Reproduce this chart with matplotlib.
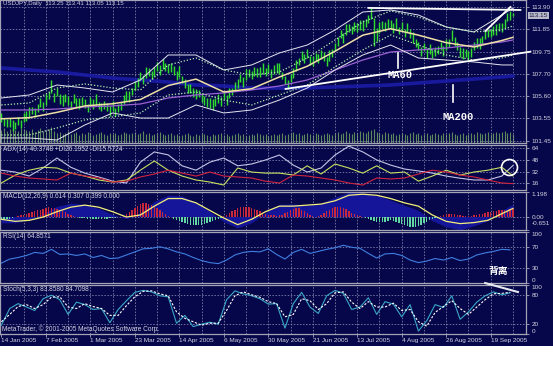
import numpy as np
import matplotlib
matplotlib.use("Agg")
import matplotlib.pyplot as plt
from matplotlib import transforms as mtransforms

plt.rcParams['font.family'] = ['Liberation Sans', 'DejaVu Sans']

# ---------------- data ----------------
title_text = "USDJPY,Daily  113.25 113.41 113.05 113.15"
last_close = 113.15
date_labels = ["14 Jan 2005", "7 Feb 2005", "1 Mar 2005", "23 Mar 2005", "14 Apr 2005",
               "6 May 2005", "30 May 2005", "21 Jun 2005", "13 Jul 2005", "4 Aug 2005",
               "26 Aug 2005", "19 Sep 2005"]
date_label_bars = [0, 16, 32, 48, 64, 80, 96, 112, 128, 144, 160, 176]

price_ticks = [113.90, 111.85, 109.75, 107.70, 105.60, 103.55, 101.45]
adx_ticks = [64, 48, 32, 16]
macd_ticks = [1.198, 0.0, -0.651]
macd_tick_labels = ["1.198", "0.00", "-0.651"]
rsi_ticks = [100, 70, 30, 0]
stoch_ticks = [100, 80, 20, 0]

high = [104.0, 103.6, 103.5, 103.6, 103.4, 103.2, 103.7, 103.4, 104.0, 104.2,
        104.6, 104.6, 104.5, 104.9, 105.4, 105.1, 105.8, 106.0, 107.1, 105.9,
        106.4, 105.8, 105.7, 105.8, 105.6, 105.2, 105.8, 105.4, 105.4, 105.5,
        105.3, 104.9, 105.5, 105.3, 105.8, 105.1, 105.0, 105.2, 105.0, 104.7,
        105.2, 104.5, 104.9, 105.1, 105.7, 106.1, 106.1, 106.4, 107.0, 107.3,
        107.9, 107.6, 108.3, 108.2, 108.0, 108.3, 108.8, 108.5, 109.1, 108.7,
        108.6, 108.7, 108.4, 108.0, 108.4, 107.5, 107.2, 106.7, 106.7, 106.4,
        106.3, 106.2, 105.9, 105.6, 105.4, 105.4, 105.3, 105.4, 105.8, 105.5,
        106.1, 105.7, 106.4, 106.4, 106.9, 107.2, 107.7, 107.4, 108.1, 108.1,
        108.0, 108.3, 108.2, 108.3, 108.7, 108.2, 108.6, 108.1, 108.5, 108.7,
        108.7, 107.9, 107.5, 107.1, 107.7, 108.2, 109.0, 109.2, 109.8, 109.5,
        110.0, 109.4, 109.4, 109.6, 109.5, 109.9, 109.7, 109.3, 109.9, 110.0,
        110.6, 111.1, 111.8, 111.5, 112.3, 112.3, 112.2, 112.5, 112.4, 112.7,
        112.7, 112.8, 113.2, 113.84, 112.9, 112.0, 112.5, 112.6, 112.5, 112.8,
        112.7, 112.4, 112.9, 112.1, 112.5, 111.9, 112.4, 111.9, 111.6, 110.9,
        110.7, 110.2, 110.6, 110.1, 110.5, 109.9, 110.2, 110.3, 110.7, 110.3,
        110.9, 110.9, 111.8, 111.1, 110.7, 110.2, 110.1, 110.0, 109.8, 110.1,
        110.7, 111.0, 111.0, 111.2, 111.7, 111.9, 111.9, 112.2, 112.3, 112.4,
        112.4, 112.8, 113.4, 113.6, 113.41]
low = [103.2, 102.8, 102.7, 102.7, 102.4, 102.5, 102.9, 102.6, 103.2, 103.3,
       103.6, 103.9, 103.7, 104.1, 104.6, 104.2, 104.8, 105.3, 105.9, 105.1,
       105.6, 104.9, 104.7, 105.1, 104.8, 104.4, 105.0, 104.5, 104.4, 104.8,
       104.5, 104.1, 104.7, 104.4, 104.8, 104.4, 104.2, 104.4, 104.2, 103.8,
       104.2, 103.8, 104.1, 104.3, 104.9, 105.2, 105.1, 105.7, 106.2, 106.5,
       107.1, 106.7, 107.3, 107.5, 107.2, 107.5, 108.0, 107.6, 108.1, 108.0,
       107.8, 107.9, 107.6, 107.1, 107.4, 106.8, 106.4, 105.9, 105.9, 105.5,
       105.3, 105.5, 105.1, 104.8, 104.6, 104.5, 104.3, 104.7, 105.0, 104.7,
       105.3, 104.8, 105.4, 105.7, 106.1, 106.4, 106.9, 106.5, 107.1, 107.4,
       107.2, 107.5, 107.4, 107.4, 107.7, 107.5, 107.8, 107.3, 107.7, 107.8,
       107.7, 107.2, 106.7, 106.3, 106.9, 107.3, 108.0, 108.5, 109.0, 108.7,
       109.2, 108.5, 108.4, 108.9, 108.7, 109.1, 108.9, 108.4, 108.9, 109.3,
       109.8, 110.3, 111.0, 110.6, 111.3, 111.6, 111.4, 111.7, 111.6, 111.8,
       111.7, 112.1, 112.4, 112.8, 110.3, 110.8, 111.5, 111.9, 111.7, 112.0,
       111.9, 111.5, 111.9, 111.4, 111.7, 111.1, 111.6, 111.0, 110.6, 110.2,
       109.9, 109.4, 109.8, 109.2, 109.5, 109.2, 109.4, 109.5, 109.9, 109.4,
       109.9, 110.2, 110.8, 110.3, 109.9, 109.3, 109.1, 109.3, 109.0, 109.3,
       109.9, 110.1, 110.0, 110.5, 110.9, 111.1, 111.1, 111.3, 111.3, 111.7,
       111.6, 112.0, 112.6, 112.7, 113.05]
volume = [13, 15, 12, 14, 16, 13, 12, 15, 14, 13, 12, 14, 11, 13, 15, 12, 13, 14, 16, 12,
          10, 11, 9, 10, 12, 9, 10, 11, 8, 10, 9, 11, 10, 8, 9, 10, 11, 9, 8, 10,
          9, 10, 8, 9, 11, 10, 9, 10, 11, 9, 10, 12, 9, 10, 8, 9, 10, 11, 9, 8,
          9, 10, 8, 9, 7, 8, 9, 10, 8, 7, 9, 8, 10, 9, 8, 7, 9, 8, 9, 10,
          8, 9, 7, 8, 9, 10, 8, 9, 7, 8, 9, 8, 10, 9, 8, 9, 7, 8, 9, 8,
          9, 10, 8, 9, 10, 11, 9, 10, 8, 9, 10, 9, 8, 10, 9, 8, 9, 10, 9, 8,
          10, 11, 9, 10, 12, 10, 9, 11, 10, 12, 11, 10, 12, 13, 14, 11, 10, 9, 11, 10,
          9, 10, 8, 9, 10, 9, 8, 10, 11, 9, 10, 8, 9, 10, 8, 9, 10, 9, 8, 10,
          9, 10, 11, 9, 8, 9, 10, 8, 9, 10, 9, 11, 10, 9, 10, 11, 9, 10, 11, 10,
          11, 12, 10, 11, 9]

# overlays, read every 10 bars (bars 0,10,...,180,184)
overlay_bars = [0, 10, 20, 30, 40, 50, 60, 70, 80, 90, 100, 110, 120, 130, 140, 150, 160, 170, 180, 184]
bb_upper = [105.44, 105.72, 106.65, 106.37, 106.00, 107.12, 109.45, 109.45, 108.05, 108.52,
            109.64, 110.38, 111.78, 113.46, 113.65, 113.18, 112.06, 111.60, 113.18, 113.83]
bb_middle = [103.5, 103.6, 104.1, 104.7, 104.9, 105.3, 106.6, 107.2, 106.0, 106.3,
             107.4, 108.4, 109.8, 111.3, 111.9, 111.3, 110.6, 110.2, 110.8, 111.1]
bb_lower = [101.71, 101.71, 101.52, 102.92, 104.04, 103.57, 103.57, 104.79, 104.04, 104.32,
            105.25, 106.37, 108.05, 109.45, 110.38, 109.17, 108.98, 108.80, 108.52, 108.52]
env_upper = [104.79, 104.97, 106.37, 106.75, 106.37, 106.19, 108.52, 109.17, 108.05, 107.58,
             107.87, 109.17, 110.85, 112.53, 113.56, 112.99, 112.06, 111.60, 111.78, 112.16]
env_lower = [101.99, 101.99, 102.64, 103.39, 103.67, 104.04, 105.72, 106.00, 105.25, 104.79,
             105.72, 106.65, 108.33, 109.92, 111.32, 110.38, 109.45, 108.98, 109.17, 109.45]
ma60 = [104.32, 104.32, 104.41, 104.60, 104.70, 104.88, 105.44, 105.72, 105.91, 106.19,
        106.56, 107.12, 108.05, 108.98, 109.73, 109.92, 110.10, 110.38, 110.66, 110.85]
ma200 = [108.24, 108.05, 107.87, 107.58, 107.30, 107.12, 106.93, 106.65, 106.56, 106.37,
         106.37, 106.37, 106.47, 106.56, 106.65, 106.84, 107.02, 107.21, 107.40, 107.49]

# ADX / MACD read every 5 bars (bars 0,5,...,180,184)
ind_bars = [0, 5, 10, 15, 20, 25, 30, 35, 40, 45, 50, 55, 60, 65, 70, 75, 80, 85, 90, 95,
            100, 105, 110, 115, 120, 125, 130, 135, 140, 145, 150, 155, 160, 165, 170, 175, 180, 184]
adx = [34, 31.5, 26, 37, 50.7, 38, 30, 24.7, 19, 16.5, 45, 59, 55, 40, 34, 45, 50.7, 40, 42.5, 48,
       54.8, 41, 31.5, 37, 54.8, 67, 59, 48, 41, 35.6, 33, 30, 26, 23, 20.6, 20.6, 26, 40.4]
plus_di = [16.5, 27.4, 34, 38, 37, 30, 26, 20.6, 17.8, 20.6, 34, 46.6, 34, 26, 20.6, 17.8, 13.7, 37, 31.5, 30,
           30, 27.4, 40, 28.8, 42.5, 37, 30, 40, 30, 31.5, 19, 26, 34, 27.4, 31.5, 34, 38, 26.2]
minus_di = [30, 26, 23.3, 22, 20.6, 30, 26, 23.3, 17.8, 19, 24.7, 28.8, 34, 30, 26, 31.5, 26, 24.7, 23.3, 19,
            16.5, 27.4, 26, 23.3, 20.6, 16.5, 13.7, 23.3, 22, 23.3, 28.8, 34, 31.5, 27.4, 24.7, 20.6, 16.5, 15.6]
macd_main = [-0.30, -0.30, -0.15, 0.15, 0.50, 0.65, 0.60, 0.40, 0.10, -0.10,
             0.20, 0.75, 1.05, 1.00, 0.70, 0.25, -0.25, -0.55, -0.30, 0.20,
             0.60, 0.62, 0.55, 0.65, 0.95, 1.19, 1.15, 1.05, 0.80, 0.55,
             0.30, -0.20, -0.50, -0.64, -0.45, -0.20, 0.30, 0.61]
macd_signal = [-0.13, -0.23, -0.18, -0.02, 0.24, 0.46, 0.56, 0.46, 0.24, -0.02,
               0.08, 0.51, 0.88, 0.88, 0.67, 0.30, -0.07, -0.39, -0.13, 0.24,
               0.51, 0.51, 0.56, 0.61, 0.77, 1.04, 1.09, 1.04, 0.88, 0.67,
               0.51, 0.08, -0.23, -0.34, -0.29, -0.18, 0.14, 0.40]
macd_hist = [-0.12, -0.14, -0.12, -0.10, -0.06, -0.02, 0.02, 0.06, 0.10, 0.14,
             0.18, 0.22, 0.26, 0.30, 0.34, 0.38, 0.42, 0.45, 0.44, 0.42,
             0.38, 0.33, 0.28, 0.22, 0.15, 0.08, 0.02, -0.03, -0.06, -0.08,
             -0.09, -0.10, -0.10, -0.11, -0.12, -0.12, -0.11, -0.10, -0.10, -0.09,
             -0.08, -0.06, -0.04, -0.02, 0.04, 0.12, 0.22, 0.32, 0.42, 0.52,
             0.60, 0.65, 0.66, 0.62, 0.55, 0.48, 0.40, 0.32, 0.22, 0.12,
             0.04, -0.04, -0.10, -0.16, -0.22, -0.28, -0.33, -0.37, -0.40, -0.42,
             -0.43, -0.42, -0.40, -0.37, -0.33, -0.28, -0.22, -0.16, -0.10, -0.05,
             0.02, 0.10, 0.18, 0.26, 0.34, 0.40, 0.45, 0.48, 0.48, 0.46,
             0.42, 0.37, 0.32, 0.26, 0.20, 0.15, 0.10, 0.08, 0.06, 0.05,
             0.06, 0.10, 0.16, 0.24, 0.32, 0.38, 0.42, 0.40, 0.34, 0.26,
             0.18, 0.10, 0.04, 0.00, 0.04, 0.10, 0.18, 0.26, 0.34, 0.42,
             0.46, 0.48, 0.46, 0.42, 0.36, 0.28, 0.20, 0.12, 0.06, 0.02,
             -0.02, -0.06, -0.10, -0.16, -0.22, -0.26, -0.28, -0.27, -0.24, -0.20,
             -0.18, -0.20, -0.24, -0.30, -0.36, -0.42, -0.47, -0.50, -0.52, -0.50,
             -0.46, -0.40, -0.33, -0.26, -0.18, -0.11, -0.05, 0.00, 0.04, 0.08,
             0.11, 0.13, 0.14, 0.12, 0.09, 0.06, 0.03, 0.02, 0.01, 0.03,
             0.06, 0.09, 0.12, 0.15, 0.18, 0.21, 0.24, 0.26, 0.28, 0.30,
             0.31, 0.33, 0.34, 0.36, 0.38]

# RSI / Stochastic read every 3 bars (bars 0,3,...,183)
osc_bars = list(range(0, 184, 3))
rsi = [39, 47, 50, 54, 60, 58, 66, 56, 57, 54, 57, 50, 54, 48, 49, 55, 61, 67, 68, 71,
       67, 61, 57, 50, 44, 40, 38, 45, 55, 60, 62, 61, 67, 56, 47, 60, 66, 58, 62, 66,
       69, 74, 70, 68, 58, 49, 57, 58, 54, 45, 40, 43, 48, 45, 50, 44, 47, 55, 59, 62,
       66, 65]
stoch_k = [18, 52, 62, 55, 48, 72, 79, 70, 40, 65, 60, 50, 52, 23, 50, 68, 85, 89, 86, 78,
           76, 22, 38, 15, 20, 24, 20, 70, 88, 82, 78, 72, 61, 62, 12, 62, 85, 55, 42, 78,
           89, 83, 50, 55, 74, 40, 66, 61, 35, 60, 6, 27, 60, 54, 78, 30, 45, 65, 78, 86,
           80, 84]
stoch_d = [25, 40, 56, 60, 52, 60, 75, 76, 55, 52, 62, 56, 52, 38, 38, 58, 76, 87, 88, 82,
           78, 45, 32, 25, 18, 22, 22, 48, 78, 86, 80, 75, 66, 62, 35, 40, 72, 68, 50, 62,
           84, 86, 65, 52, 66, 55, 55, 63, 48, 50, 25, 16, 44, 56, 68, 52, 40, 55, 70, 82,
           83, 85]

# hand-drawn annotations on the original chart (bar index, value)
trend_top = ([132, 186.7], [113.84, 113.65])
trend_rise = ([174.1, 183.1], [111.69, 113.93])
trend_support = ([102.2, 190.3], [106.28, 109.76])
ma60_mark = ([142.8, 142.8], [108.24, 109.64])
ma200_mark = ([162.6, 162.6], [105.06, 106.65])
stoch_div = ([174.0, 185.8], [104.0, 85.7])

# ---------------- style ----------------
NAVY = "#06064a"
GREEN = "#2fdc2f"
VOL = "#5c8a5c"
GRID = "#8a8ab4"
TXT = "#d4d4e2"
SPINE = "#a4a4b6"
FS_AX = 4.6
FS_LBL = 4.7

W, H = 553, 384
RIGHT = 526
XMIN, XMAX = -0.5, 188.7

fig = plt.figure(figsize=(W / 100, H / 100), dpi=100)
fig.patch.set_facecolor("white")
fig.add_artist(plt.Rectangle((0, 1 - 346 / H), 1, 346 / H, transform=fig.transFigure,
                             facecolor=NAVY, edgecolor="none", zorder=-10))


def make_ax(top, bottom, eps=0.0):
    ax = fig.add_axes([0, 1 - bottom / H + eps, RIGHT / W, (bottom - top) / H])
    ax.set_facecolor("none")
    ax.set_xlim(XMIN, XMAX)
    for s in ax.spines.values():
        s.set_color(SPINE)
        s.set_linewidth(0.9)
    ax.yaxis.tick_right()
    ax.tick_params(axis="y", length=2, width=0.6, color=SPINE, labelcolor=TXT,
                   labelsize=FS_AX, pad=2)
    ax.tick_params(axis="x", bottom=False, labelbottom=False)
    return ax


grid_bars = np.arange(8, 189, 8)
DASH = (0, (2, 2))


def grid(ax, levels):
    for b in grid_bars:
        ax.axvline(b, color=GRID, lw=0.55, ls=DASH, zorder=1)
    for lv in levels:
        ax.axhline(lv, color=GRID, lw=0.55, ls=DASH, zorder=1)


def panel_label(ax, text, y=0.985, fs=FS_LBL):
    ax.text(0.006, y, text, transform=ax.transAxes, va="top", ha="left",
            fontsize=fs, color=TXT, zorder=10)


def shift_label(lab, dy_px):
    lab.set_transform(lab.get_transform() +
                      mtransforms.ScaledTranslation(0, dy_px / 100, fig.dpi_scale_trans))


idx = np.arange(len(high))

# ---- main price panel ----
axv = make_ax(0, 143, eps=1e-7)
axv.axis("off")
axv.set_ylim(0, 140)
axv.vlines(np.arange(len(volume)), 0, volume, color=VOL, lw=0.8)

ax0 = make_ax(0, 143)
ax0.set_ylim(101.24, 114.58)
grid(ax0, price_ticks)
ax0.set_yticks(price_ticks)
ax0.set_yticklabels([f"{t:.2f}" for t in price_ticks])
ax0.plot(overlay_bars, ma200, color="#1c1ca8", lw=2.6, alpha=0.9, zorder=2)
ax0.vlines(idx, low, high, color=GREEN, lw=1.05, zorder=3)
ax0.plot(overlay_bars, ma60, color="#9a62d2", lw=0.9, zorder=4)
ax0.plot(overlay_bars, bb_upper, color="#e6e6f0", lw=0.7, zorder=4)
ax0.plot(overlay_bars, bb_lower, color="#e6e6f0", lw=0.7, zorder=4)
ax0.plot(overlay_bars, bb_middle, color="#eee0a6", lw=1.1, zorder=4)
ax0.plot(overlay_bars, env_upper, color="#b4f0b4", lw=0.9, ls=(0, (1, 1.5)), zorder=4)
ax0.plot(overlay_bars, env_lower, color="#b4f0b4", lw=0.9, ls=(0, (1, 1.5)), zorder=4)
for tl in (trend_top, trend_rise, trend_support):
    ax0.plot(tl[0], tl[1], color="white", lw=1.3, zorder=6, clip_on=False)
ax0.plot(ma60_mark[0], ma60_mark[1], color="white", lw=1.2, zorder=6)
ax0.plot(ma200_mark[0], ma200_mark[1], color="white", lw=1.2, zorder=6)
ax0.text(143.5, 107.58, "MA60", ha="center", va="center", color="white",
         fontsize=7.5, fontweight="bold", family="Liberation Mono", zorder=7)
ax0.text(164.4, 103.67, "MA200", ha="center", va="center", color="white",
         fontsize=7.5, fontweight="bold", family="Liberation Mono", zorder=7)
panel_label(ax0, title_text, y=0.995, fs=4.4)
ax0.text(1.005, last_close, f"{last_close:.2f}",
         transform=mtransforms.blended_transform_factory(ax0.transAxes, ax0.transData),
         ha="left", va="center", fontsize=FS_AX, color="#202048",
         bbox=dict(boxstyle="square,pad=0.15", fc="#b8b8c8", ec="none"), zorder=8,
         clip_on=False)

# ---- ADX ----
ax1 = make_ax(145, 190)
ax1.set_ylim(6.9, 68.5)
grid(ax1, adx_ticks)
ax1.set_yticks(adx_ticks)
ax1.plot(ind_bars, adx, color="#c4c4e6", lw=0.8, zorder=3)
ax1.plot(ind_bars, plus_di, color="#c8e060", lw=0.8, zorder=3)
ax1.plot(ind_bars, minus_di, color="#d0243e", lw=0.8, zorder=3)
ax1.plot([182.6], [38.4], marker="o", ms=11.5, mfc="none", mec="white", mew=1.2,
         zorder=6, clip_on=False)
panel_label(ax1, "ADX(14) 40.3748 +DI26.1952 -DI15.5724")

# ---- MACD ----
ax2 = make_ax(192, 230)
ax2.set_ylim(-0.651, 1.198)
grid(ax2, [0.0])
ax2.set_yticks(macd_ticks)
ax2.set_yticklabels(macd_tick_labels)
ax2.fill_between(ind_bars, 0, macd_main, color="#15159a", lw=0, zorder=2)
hist = np.array(macd_hist)
ax2.bar(np.arange(len(hist)), hist, width=0.5,
        color=np.where(hist >= 0, "#c8283c", "#62d6a4"), zorder=3)
ax2.plot(ind_bars, macd_signal, color="#f2f07a", lw=0.9, zorder=4)
panel_label(ax2, "MACD(12,26,9) 0.614 0.307 0.399 0.000")
labs = ax2.get_yticklabels()
labs[0].set_verticalalignment("top")
labs[2].set_verticalalignment("bottom")
shift_label(labs[2], 4)

# ---- RSI ----
ax3 = make_ax(232, 283)
ax3.set_ylim(0, 100)
grid(ax3, [70, 30])
ax3.set_yticks(rsi_ticks)
ax3.plot(osc_bars, rsi, color="#3f7fe0", lw=0.8, zorder=3)
panel_label(ax3, "RSI(14) 64.8571")
labs = ax3.get_yticklabels()
labs[0].set_verticalalignment("top")
labs[3].set_verticalalignment("bottom")
ax3.text(178.6, 23.5, "背离", ha="center", va="center", color="white", fontsize=7,
         fontweight="bold", family=["Noto Sans CJK SC", "DejaVu Sans"], zorder=7)

# ---- Stochastic ----
ax4 = make_ax(285, 334)
ax4.set_ylim(0, 100)
grid(ax4, [80, 20])
ax4.set_yticks(stoch_ticks)
ax4.plot(osc_bars, stoch_k, color="#3aa8c8", lw=0.8, zorder=3)
ax4.plot(osc_bars, stoch_d, color="white", lw=0.8, ls=(0, (2, 1.5)), zorder=4)
ax4.plot(stoch_div[0], stoch_div[1], color="#e8e8f0", lw=1.5, zorder=7, clip_on=False)
panel_label(ax4, "Stoch(5,3,3) 83.8580 84.7098")
ax4.text(0.004, 0.02, "MetaTrader, \u00a9 2001-2005 MetaQuotes Software Corp.",
         transform=ax4.transAxes, ha="left", va="bottom", fontsize=FS_LBL, color=TXT, zorder=10)
labs = ax4.get_yticklabels()
labs[0].set_verticalalignment("top")
labs[3].set_verticalalignment("bottom")
ax4.set_xticks(date_label_bars)
ax4.set_xticklabels(date_labels, ha="left")
ax4.tick_params(axis="x", bottom=True, labelbottom=True, length=2, width=0.6,
                color=SPINE, labelcolor=TXT, labelsize=FS_AX, pad=1)

fig.savefig("out.png", dpi=100, facecolor=fig.get_facecolor())
